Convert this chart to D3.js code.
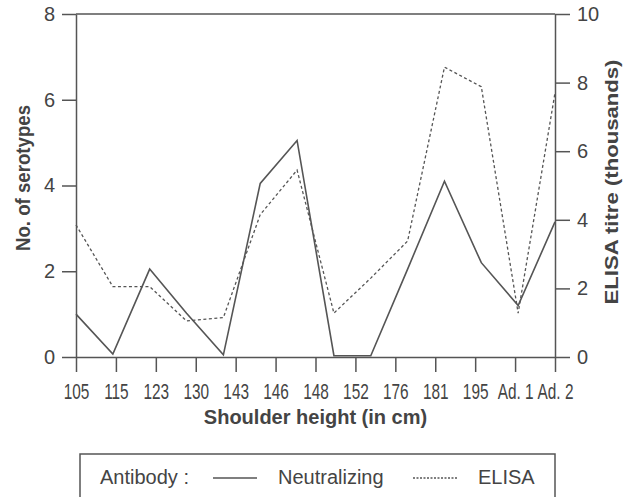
<!DOCTYPE html>
<html>
<head>
<meta charset="utf-8">
<script src="https://cdn.jsdelivr.net/npm/d3@7"></script>
<style>
  body { margin: 0; background: #fff; }
  svg { display: block; font-family: "Liberation Sans", Arial, sans-serif; }
</style>
</head>
<body>
<svg id="chart" width="634" height="497"></svg>
<script>
// shoulder height categories on the x axis
var heights = ["105", "115", "123", "130", "143", "146", "148", "152", "176", "181", "195", "Ad. 1", "Ad. 2"];

// the plotted points sit on their own 14-step grid
var neutralizing = [1.0, 0.07, 2.05, 1.02, 0.05, 4.05, 5.05, 0.03, 0.03, 2.05, 4.1, 2.2, 1.2, 3.15];
var elisa = [3.85, 2.05, 2.05, 1.05, 1.15, 4.15, 5.45, 1.28, 2.3, 3.38, 8.45, 7.88, 1.28, 7.7];

var leftTicks = [0, 2, 4, 6, 8];
var rightTicks = [0, 2, 4, 6, 8, 10];
var seriesNames = ["Neutralizing", "ELISA"];

var ink = "#555";
var txt = "#444";

var plotL = 76, plotR = 555, plotT = 14, plotB = 357;

var svg = d3.select("#chart");

var xTick = d3.scalePoint().domain(heights).range([plotL, plotR]);
var xIdx = d3.scaleLinear().domain([0, neutralizing.length - 1]).range([plotL, plotR]);
var yL = d3.scaleLinear().domain([0, 8]).range([plotB, plotT]);
var yR = d3.scaleLinear().domain([0, 10]).range([plotB, plotT]);

// top border
svg.append("line")
  .attr("x1", plotL).attr("x2", plotR)
  .attr("y1", yL(8)).attr("y2", yL(8))
  .attr("stroke", ink).attr("stroke-width", 1.5);

var gx = svg.append("g")
  .attr("transform", "translate(0," + plotB + ")")
  .call(d3.axisBottom(xTick).tickSize(15).tickSizeOuter(0).tickPadding(11));

var gl = svg.append("g")
  .attr("transform", "translate(" + plotL + ",0)")
  .call(d3.axisLeft(yL).tickValues(leftTicks).tickSize(14).tickSizeOuter(0).tickPadding(7));

var gr = svg.append("g")
  .attr("transform", "translate(" + plotR + ",0)")
  .call(d3.axisRight(yR).tickValues(rightTicks).tickSize(15).tickSizeOuter(0).tickPadding(7));

[gx, gl, gr].forEach(function(g) {
  g.selectAll("path, line").attr("stroke", ink).attr("stroke-width", 1.5);
  g.selectAll("text").attr("fill", txt).style("font-size", "20px");
});

// the x labels are a condensed face in the original
gx.selectAll("text")
  .style("font-size", "22px")
  .attr("transform", "scale(0.7,1)");

var line = d3.line()
  .x(function(d, i) { return xIdx(i); });

svg.append("path")
  .datum(neutralizing)
  .attr("d", line.y(function(d) { return yL(d); }))
  .attr("fill", "none")
  .attr("stroke", ink)
  .attr("stroke-width", 1.6);

svg.append("path")
  .datum(elisa)
  .attr("d", line.y(function(d) { return yR(d); }))
  .attr("fill", "none")
  .attr("stroke", ink)
  .attr("stroke-width", 1.3)
  .attr("stroke-dasharray", "3,2.5");

// axis titles
svg.append("text")
  .attr("x", (plotL + plotR) / 2)
  .attr("y", 424)
  .attr("text-anchor", "middle")
  .attr("fill", txt)
  .style("font-size", "20px")
  .style("font-weight", "bold")
  .text("Shoulder height (in cm)");

svg.append("text")
  .attr("transform", "translate(30,178) rotate(-90)")
  .attr("text-anchor", "middle")
  .attr("fill", txt)
  .style("font-size", "20px")
  .style("font-weight", "bold")
  .attr("textLength", 146)
  .attr("lengthAdjust", "spacingAndGlyphs")
  .text("No. of serotypes");

svg.append("text")
  .attr("transform", "translate(618,182) rotate(-90)")
  .attr("text-anchor", "middle")
  .attr("fill", txt)
  .style("font-size", "19px")
  .style("font-weight", "bold")
  .attr("textLength", 245)
  .attr("lengthAdjust", "spacingAndGlyphs")
  .text("ELISA  titre (thousands)");

// legend box
var lg = svg.append("g");
lg.append("rect")
  .attr("x", 80).attr("y", 454)
  .attr("width", 475).attr("height", 80)
  .attr("fill", "none")
  .attr("stroke", ink).attr("stroke-width", 1.5);

lg.append("text")
  .attr("x", 100).attr("y", 484)
  .attr("fill", txt)
  .style("font-size", "20px")
  .text("Antibody :");

var legendX = [213, 413];
seriesNames.forEach(function(name, i) {
  lg.append("line")
    .attr("x1", legendX[i]).attr("x2", legendX[i] + 44)
    .attr("y1", 478).attr("y2", 478)
    .attr("stroke", ink)
    .attr("stroke-width", i == 0 ? 1.6 : 1.3)
    .attr("stroke-dasharray", i == 0 ? null : "2,1.5");
  lg.append("text")
    .attr("x", legendX[i] + 65).attr("y", 484)
    .attr("fill", txt)
    .style("font-size", "20px")
    .text(name);
});
</script>
</body>
</html>
